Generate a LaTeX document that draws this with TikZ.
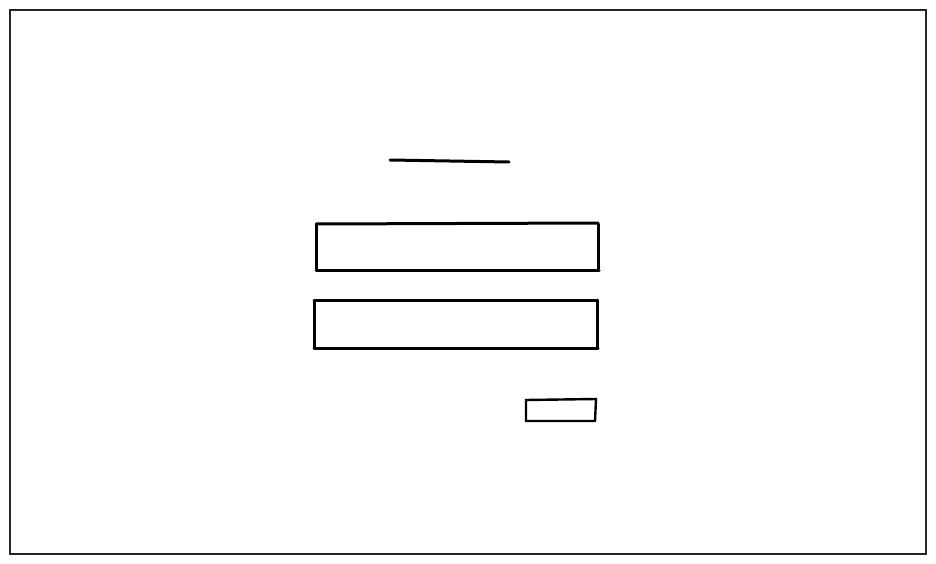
\documentclass[tikz,border=0pt]{standalone}
\begin{document}
\begin{tikzpicture}[x=1pt,y=-1pt,
  frame/.style={draw=black!85,line width=1.2pt},
  sketch/.style={draw=black,line width=3pt,line cap=round},
  thinsketch/.style={draw=black,line width=2.4pt,line cap=round}]
\useasboundingbox (0,0) rectangle (936,564);
\fill[white] (0,0) rectangle (936,564);
% outer frame
\coordinate (f1) at (10,10);
\coordinate (f2) at (926,10);
\coordinate (f3) at (926,554);
\coordinate (f4) at (10,554);
\draw[frame] (f1) -- (f2) -- (f3) -- (f4) -- cycle;
% title line
\coordinate (t1) at (390,160);
\coordinate (t2) at (509,162);
\draw[sketch] (t1) -- (t2);
% input box 1
\coordinate (a1) at (316,224);
\coordinate (a2) at (598,223);
\coordinate (a3) at (598,270);
\coordinate (a4) at (316,270);
\draw[sketch] (a1) -- (a2);
\draw[sketch] ([yshift=-1]a2) -- ([yshift=1]a3);
\draw[sketch] ([xshift=1]a3) -- (a4);
\draw[sketch] ([yshift=1]a4) -- ([yshift=-1]a1);
% input box 2
\coordinate (b1) at (314,300);
\coordinate (b2) at (597,300);
\coordinate (b3) at (597,348);
\coordinate (b4) at (314,348);
\draw[sketch] (b1) -- (b2);
\draw[sketch] (b2) -- (b3);
\draw[sketch] ([xshift=1]b3) -- (b4);
\draw[sketch] (b4) -- ([yshift=-1]b1);
% button
\coordinate (c1) at (526,400);
\coordinate (c2) at (596,399);
\coordinate (c3) at (595,421);
\coordinate (c4) at (526,421);
\draw[thinsketch] (c1) -- (c2) -- (c3) -- (c4) -- cycle;
\end{tikzpicture}
\end{document}
